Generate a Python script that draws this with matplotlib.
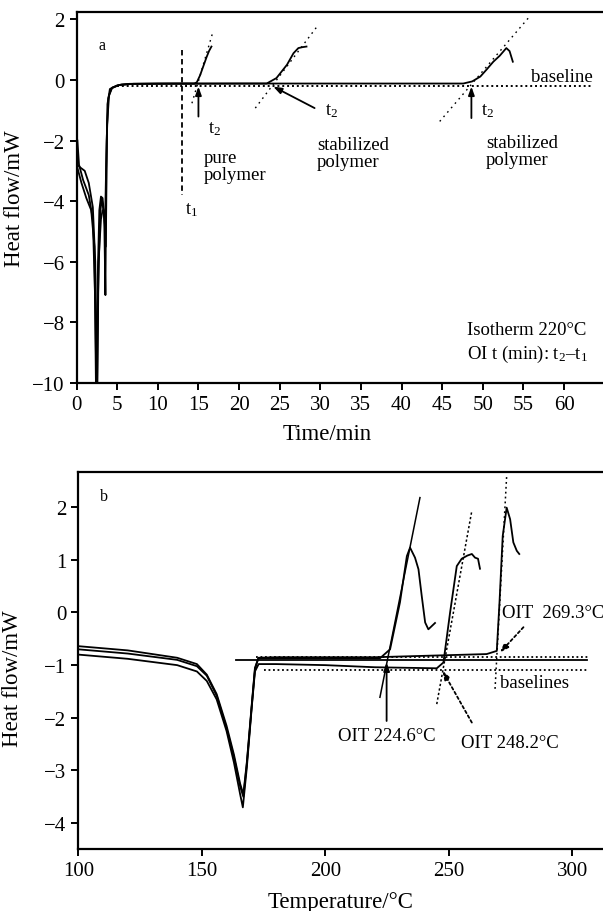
import matplotlib
matplotlib.use("Agg")
import matplotlib.pyplot as plt
import numpy as np

plt.rcParams['font.family'] = ['Liberation Serif', 'DejaVu Sans']
plt.rcParams['mathtext.fontset'] = 'custom'
plt.rcParams['mathtext.rm'] = 'Liberation Serif'
plt.rcParams['mathtext.it'] = 'Liberation Serif:italic'

# ---- panel a: isothermal OIT at 220 C (time in min, heat flow in mW)
t_pure = [0.1, 0.3, 0.8, 1.5, 2.0, 2.3, 2.45, 2.6, 2.8, 3.0, 3.2, 3.4, 3.55, 3.65, 3.8, 4.1, 5.0, 6.5,
          10, 14.5, 14.8, 15.2, 15.6, 16.0, 16.3, 16.6]
hf_pure = [-2.0, -2.8, -3.3, -3.8, -4.6, -7.4, -10.5, -6.5, -4.3, -3.85, -3.9, -4.5, -7.1, -3.0, -0.8, -0.3, -0.18, -0.13,
           -0.12, -0.12, -0.08, 0.15, 0.45, 0.75, 0.95, 1.1]
t_stab1 = [0.1, 0.5, 1.0, 1.5, 2.0, 2.3, 2.5, 2.65, 2.9, 3.1, 3.3, 3.5, 3.7, 3.9, 4.3, 5.2, 7.0,
           12, 23.4, 24.6, 25.9, 26.7, 27.3, 27.8, 28.3]
hf_stab1 = [-2.8, -2.9, -3.0, -3.4, -4.2, -6.0, -10.5, -7.0, -4.4, -3.9, -4.3, -4.8, -2.0, -0.6, -0.28, -0.17, -0.13,
            -0.12, -0.12, 0.06, 0.5, 0.88, 1.05, 1.08, 1.1]
t_stab2 = [0.1, 0.6, 1.2, 1.8, 2.2, 2.4, 2.55, 2.7, 3.0, 3.2, 3.4, 3.6, 3.75, 4.0, 4.4, 5.5, 7.0,
           20, 47.6, 48.7, 49.7, 50.5, 51.3, 52.1, 52.9, 53.3, 53.7]
hf_stab2 = [-2.9, -3.4, -3.9, -4.3, -5.5, -10.5, -10.5, -6.0, -4.6, -4.3, -4.4, -5.5, -1.5, -0.5, -0.25, -0.15, -0.13,
            -0.12, -0.12, -0.05, 0.11, 0.35, 0.6, 0.8, 1.05, 0.95, 0.6]
# tangents (start, end)
tan_a_t = [[14.2, 16.8], [22.0, 29.6], [44.7, 55.6]]
tan_a_hf = [[-0.77, 1.6], [-0.93, 1.76], [-1.37, 2.04]]
baseline_a_t = [5.0, 63.6]
baseline_a_hf = -0.2
t1_pos = 13.0

# ---- panel b: dynamic OIT (temperature in C, heat flow in mW)
T_a = [100, 120, 140, 148, 152, 156, 160, 163, 165.5, 166.8, 168.2, 170.2, 171.5, 172.9, 180,
       200, 222.1, 226.2, 230.2, 233.0, 234.3, 236.3, 237.7, 239.0, 240.4, 241.7, 244.4]
hf_a = [-0.64, -0.72, -0.86, -0.98, -1.18, -1.55, -2.15, -2.7, -3.25, -3.45, -2.85, -1.75, -1.05, -0.87, -0.87,
        -0.87, -0.87, -0.70, 0.19, 1.07, 1.23, 1.04, 0.82, 0.32, -0.19, -0.32, -0.20]
T_b = [100, 120, 140, 148, 152, 156, 160, 163, 165.5, 166.6, 168.2, 170.2, 171.5, 173.0, 180, 200,
       220, 245.1, 247.8, 250.5, 253.2, 255.2, 257.5, 259.3, 260.6, 261.8, 262.6]
hf_b = [-0.80, -0.88, -1.0, -1.12, -1.3, -1.65, -2.25, -2.85, -3.45, -3.70, -2.95, -1.8, -1.12, -0.98, -0.98, -1.0,
        -1.04, -1.06, -0.95, 0.0, 0.88, 1.02, 1.08, 1.11, 1.04, 1.02, 0.83]
T_c = [100, 120, 140, 148, 152, 156, 160, 163, 165.5, 166.8, 168.2, 170.2, 171.5, 172.9, 180, 220,
       265.3, 269.4, 270.5, 271.8, 273.4, 274.8, 276.1, 277.5, 278.5]
hf_c = [-0.70, -0.78, -0.9, -1.02, -1.2, -1.58, -2.2, -2.75, -3.3, -3.5, -2.88, -1.78, -1.08, -0.86, -0.85, -0.85,
        -0.79, -0.73, 0.19, 1.45, 1.99, 1.77, 1.33, 1.17, 1.11]
tan_b_T = [[222.1, 238.3], [245.1, 259.3], [268.7, 273.4]]
tan_b_hf = [[-1.61, 2.18], [-1.74, 1.93], [-1.45, 2.59]]
base_solid_T, base_solid_hf = [163.8, 305.8], -0.91
base_up_T, base_up_hf = [172.0, 307.2], -0.84
base_lo_T, base_lo_hf = [175.0, 305.8], -1.09

fig = plt.figure(figsize=(6.03, 9.12), dpi=100)


def style(ax):
    ax.spines['right'].set_visible(False)
    for s in ['left', 'bottom', 'top']:
        ax.spines[s].set_linewidth(1.6)
    ax.tick_params(direction='out', length=5, width=1.4, labelsize=15, top=False, right=False)


# panel a
ax = fig.add_axes([0.127, 0.579, 0.873, 0.4064])
style(ax)
for tt, hh in [(t_pure, hf_pure), (t_stab1, hf_stab1), (t_stab2, hf_stab2)]:
    ax.plot(tt, hh, color='k', lw=1.3)
for tt, hh in zip(tan_a_t, tan_a_hf):
    ax.plot(tt, hh, color='k', lw=1.0, ls=(0, (1.2, 3)))
ax.plot(baseline_a_t, [baseline_a_hf] * 2, color='k', lw=1.4, ls=(0, (1, 1.5)))
ax.plot([t1_pos, t1_pos], [1.0, -3.8], color='k', lw=1.3, ls=(0, (3, 2)))

arr = dict(arrowstyle='-|>,head_length=0.5,head_width=0.18', color='k', lw=1.3, shrinkA=0, shrinkB=0)
ax.annotate('', xy=(15.0, -0.22), xytext=(15.0, -1.21), arrowprops=arr)
ax.annotate('', xy=(24.2, -0.22), xytext=(29.3, -0.93), arrowprops=arr)
ax.annotate('', xy=(48.6, -0.22), xytext=(48.6, -1.26), arrowprops=arr)

fs = 13.5
ax.text(2.7, 1.15, 'a', fontsize=11.5, va='center')
ax.text(13.3, -4.25, 't$_1$', fontsize=fs, va='center')
ax.text(16.2, -1.6, 't$_2$', fontsize=fs, va='center')
ax.text(15.6, -2.85, 'pure\npolymer', fontsize=fs, va='center', linespacing=1.0)
ax.text(30.6, -1.0, 't$_2$', fontsize=fs, va='center')
ax.text(29.6, -2.42, 'stabilized\npolymer', fontsize=fs, va='center', linespacing=1.0)
ax.text(49.8, -1.0, 't$_2$', fontsize=fs, va='center')
ax.text(50.4, -2.35, 'stabilized\npolymer', fontsize=fs, va='center', linespacing=1.0)
ax.text(63.5, 0.1, 'baseline', fontsize=fs, va='center', ha='right')
ax.text(48.0, -8.25, 'Isotherm 220°C', fontsize=fs, va='center')
ax.text(48.0, -9.02, 'OI t (min): t$_2$–t$_1$', fontsize=fs, va='center')

ax.set_xlim(0, 64.8)
ax.set_ylim(-10, 2.23)
ax.set_xticks(np.arange(0, 61, 5))
ax.set_yticks(np.arange(-10, 3, 2))
ax.set_xlabel('Time/min', fontsize=16.5)
ax.set_ylabel('Heat flow/mW', fontsize=16.5)
ax.xaxis.set_label_coords(0.476, -0.108)
ax.yaxis.set_label_coords(-0.098, 0.5)

# panel b
bx = fig.add_axes([0.1299, 0.068, 0.8701, 0.413])
style(bx)
for TT, hh in [(T_a, hf_a), (T_b, hf_b), (T_c, hf_c)]:
    bx.plot(TT, hh, color='k', lw=1.3)
bx.plot(tan_b_T[0], tan_b_hf[0], color='k', lw=1.1)
bx.plot(tan_b_T[1], tan_b_hf[1], color='k', lw=1.1, ls=(0, (1.5, 1.5)))
bx.plot(tan_b_T[2], tan_b_hf[2], color='k', lw=1.1, ls=(0, (1.2, 2)))
bx.plot(base_solid_T, [base_solid_hf] * 2, color='k', lw=1.3)
bx.plot(base_up_T, [base_up_hf] * 2, color='k', lw=1.3, ls=(0, (1, 1.5)))
bx.plot(base_lo_T, [base_lo_hf] * 2, color='k', lw=1.3, ls=(0, (1, 1.5)))

bx.annotate('', xy=(224.8, -0.95), xytext=(224.8, -2.06), arrowprops=arr)
arr_d = dict(arr, ls=(0, (1.5, 1.5)))
bx.annotate('', xy=(247.5, -1.11), xytext=(259.3, -2.09), arrowprops=arr_d)
bx.annotate('', xy=(270.7, -0.76), xytext=(280.2, -0.28), arrowprops=arr_d)

bx.text(108.8, 2.22, 'b', fontsize=11.5, va='center')
bx.text(225.0, -2.34, 'OIT 224.6°C', fontsize=fs, va='center', ha='center')
bx.text(274.8, -2.47, 'OIT 248.2°C', fontsize=fs, va='center', ha='center')
bx.text(271.4, -0.01, 'OIT  269.3°C', fontsize=fs, va='center')
bx.text(270.9, -1.33, 'baselines', fontsize=fs, va='center')

bx.set_xlim(100, 312.4)
bx.set_ylim(-4.49, 2.66)
bx.set_xticks([100, 150, 200, 250, 300])
bx.set_yticks(np.arange(-4, 3, 1))
bx.set_xlabel('Temperature/°C', fontsize=16.5)
bx.set_ylabel('Heat flow/mW', fontsize=16.5)
bx.xaxis.set_label_coords(0.499, -0.112)
bx.yaxis.set_label_coords(-0.105, 0.454)

fig.savefig('out.png', dpi=100)
